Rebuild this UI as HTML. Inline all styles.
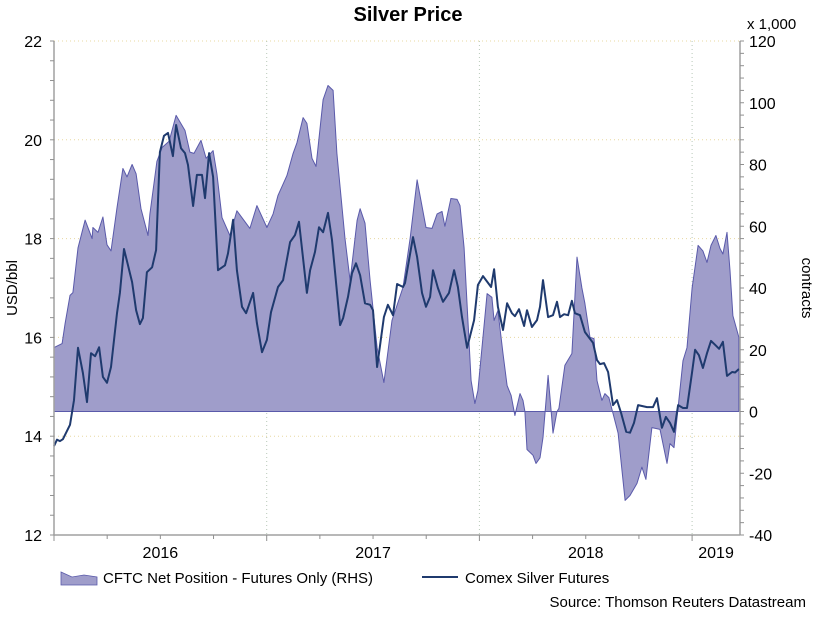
<!DOCTYPE html>
<html><head><meta charset="utf-8"><style>
html,body{margin:0;padding:0;background:#fff;}
svg text{font-family:"Liberation Sans",Arial,sans-serif;fill:#000;}
</style></head><body>
<svg id="chart" width="821" height="620" viewBox="0 0 821 620" xmlns="http://www.w3.org/2000/svg">
<text x="408" y="21" text-anchor="middle" font-size="20" font-weight="bold">Silver Price</text>
<g id="grid"></g>
<g id="areaG"></g>
<g id="lineG"></g>
<g id="axes"></g>
<text transform="translate(17,288) rotate(-90)" text-anchor="middle" font-size="15">USD/bbl</text>
<text transform="translate(802,288) rotate(90)" text-anchor="middle" font-size="15">contracts</text>
<text x="747" y="29" font-size="15">x 1,000</text>
<g>
 <g>
  <polygon points="61,572 72,577 84,575 97,577 97,585 61,585" fill="#9f9dca" stroke="#5a5aaa" stroke-width="0.8"/>
  <text x="103" y="583" font-size="15">CFTC Net Position - Futures Only (RHS)</text>
 </g>
 <g>
  <line x1="422" y1="577" x2="458" y2="577" stroke="#1f3a6e" stroke-width="2"/>
  <text x="465" y="583" font-size="15">Comex Silver Futures</text>
 </g>
</g>
<text x="806" y="607" text-anchor="end" font-size="15">Source: Thomson Reuters Datastream</text>
</svg>
<script>
const cftcDates=[2016.000,2016.038,2016.052,2016.075,2016.089,2016.113,2016.146,2016.179,2016.183,2016.207,2016.230,2016.249,2016.268,2016.296,2016.324,2016.343,2016.367,2016.386,2016.409,2016.442,2016.451,2016.484,2016.508,2016.541,2016.574,2016.616,2016.639,2016.658,2016.691,2016.715,2016.748,2016.766,2016.790,2016.827,2016.860,2016.921,2016.954,2017.001,2017.030,2017.053,2017.095,2017.124,2017.142,2017.171,2017.189,2017.213,2017.232,2017.265,2017.288,2017.312,2017.330,2017.368,2017.392,2017.425,2017.439,2017.462,2017.486,2017.519,2017.551,2017.589,2017.641,2017.674,2017.707,2017.749,2017.777,2017.801,2017.824,2017.838,2017.866,2017.895,2017.909,2017.928,2017.961,2017.979,2017.993,2018.036,2018.059,2018.069,2018.087,2018.111,2018.130,2018.149,2018.167,2018.191,2018.205,2018.214,2018.224,2018.252,2018.266,2018.285,2018.299,2018.323,2018.346,2018.365,2018.374,2018.402,2018.435,2018.459,2018.482,2018.496,2018.520,2018.539,2018.553,2018.576,2018.590,2018.609,2018.628,2018.652,2018.685,2018.708,2018.741,2018.764,2018.783,2018.811,2018.849,2018.882,2018.896,2018.915,2018.934,2018.957,2018.976,2019.000,2019.028,2019.051,2019.070,2019.089,2019.112,2019.131,2019.145,2019.164,2019.178,2019.192,2019.220];
const cftcValues=[20.7,22,28.5,37.6,38.5,53,62,56,59.6,58,63,54,52,66,78.7,76,80,77,65.7,57,64,81,85.5,87.5,95.9,91,84,83.6,87.8,82,84.5,77,62.8,57,65,59.3,66.7,59.6,64,70,76.4,83.6,87,95.2,93.3,82,79.4,101,105.6,104,83.6,56,42.4,61.9,65.7,61,42.4,20.7,9.4,29.5,40.2,56,75,59.6,59.3,64,64.8,60,69,68.7,66.7,53,10,2.6,6.8,38.2,37,29.5,32.7,18.8,8.4,5.2,-1.3,5.8,3.6,0,-12.3,-14.2,-16.8,-15,-8.4,11.7,-7,0,1,15,18.8,50,40,35,24,23.6,10,3.6,5.8,4.5,-0.6,-7,-28.8,-27.2,-23.3,-18,-22,-5.2,-5.8,-16.8,-10.4,-11.7,1.3,16.5,20.7,40,53.8,52,48.3,53.8,57,52.8,51,58,45.7,31,24];
const priceDates=[2016.000,2016.014,2016.028,2016.042,2016.075,2016.094,2016.113,2016.136,2016.155,2016.174,2016.193,2016.212,2016.230,2016.249,2016.268,2016.296,2016.310,2016.329,2016.367,2016.386,2016.404,2016.418,2016.437,2016.461,2016.480,2016.498,2016.517,2016.536,2016.559,2016.574,2016.597,2016.616,2016.630,2016.654,2016.672,2016.696,2016.710,2016.729,2016.748,2016.771,2016.804,2016.818,2016.842,2016.860,2016.884,2016.903,2016.936,2016.954,2016.978,2017.001,2017.020,2017.053,2017.077,2017.110,2017.133,2017.152,2017.189,2017.204,2017.227,2017.246,2017.265,2017.288,2017.307,2017.345,2017.359,2017.382,2017.401,2017.420,2017.439,2017.462,2017.486,2017.500,2017.519,2017.551,2017.570,2017.594,2017.613,2017.641,2017.650,2017.688,2017.707,2017.730,2017.749,2017.768,2017.782,2017.805,2017.829,2017.857,2017.881,2017.899,2017.918,2017.942,2017.975,2017.993,2018.017,2018.055,2018.069,2018.087,2018.111,2018.130,2018.153,2018.167,2018.186,2018.210,2018.224,2018.247,2018.271,2018.285,2018.299,2018.323,2018.346,2018.365,2018.379,2018.398,2018.417,2018.435,2018.449,2018.473,2018.496,2018.515,2018.534,2018.553,2018.567,2018.586,2018.605,2018.628,2018.647,2018.666,2018.690,2018.708,2018.727,2018.746,2018.788,2018.816,2018.835,2018.858,2018.877,2018.896,2018.915,2018.934,2018.957,2018.976,2019.000,2019.014,2019.032,2019.051,2019.070,2019.089,2019.108,2019.127,2019.145,2019.164,2019.188,2019.202,2019.220];
const priceValues=[13.80,13.93,13.90,13.94,14.23,14.73,15.79,15.28,14.69,15.68,15.62,15.80,15.20,15.08,15.40,16.49,16.90,17.79,17.12,16.55,16.27,16.39,17.32,17.42,17.77,19.75,20.08,20.14,19.67,20.30,19.83,19.73,19.49,18.66,19.29,19.29,18.82,19.73,19.25,17.36,17.46,17.70,18.38,17.36,16.62,16.49,16.90,16.29,15.70,15.95,16.51,17.02,17.16,17.93,18.07,18.34,16.90,17.36,17.73,18.23,18.13,18.52,17.97,16.25,16.39,16.82,17.30,17.50,17.26,16.69,16.66,16.55,15.40,16.41,16.66,16.45,17.08,17.02,17.10,18.03,17.63,16.90,16.62,16.82,17.36,17.00,16.72,16.90,17.36,17.02,16.41,15.79,16.35,17.06,17.24,17.02,17.38,16.62,16.15,16.69,16.49,16.43,16.57,16.23,16.55,16.21,16.35,16.62,17.16,16.41,16.45,16.72,16.41,16.47,16.45,16.74,16.49,16.45,16.11,16.00,15.89,15.54,15.46,15.48,15.30,14.63,14.73,14.47,14.09,14.07,14.27,14.63,14.59,14.59,14.77,14.17,14.39,14.27,14.09,14.63,14.57,14.57,15.30,15.75,15.64,15.38,15.68,15.93,15.85,15.77,15.91,15.22,15.30,15.29,15.36];
const leftTicks=[12,14,16,18,20,22];
const rightTicks=[-40,-20,0,20,40,60,80,100,120];
const yearLabels=["2016","2017","2018","2019"];

const NS="http://www.w3.org/2000/svg";
const X0=54,X1=740,YT=41,YB=535,PXY=212.7;
const xS=d=>X0+(d-2016)*PXY;
const yL=v=>YB-(v-12)*(YB-YT)/10;
const yR=v=>YB-(v+40)*(YB-YT)/160;
function mk(tag,attrs,parent){const e=document.createElementNS(NS,tag);for(const k in attrs)e.setAttribute(k,attrs[k]);parent.appendChild(e);return e;}
const grid=document.getElementById('grid'),axes=document.getElementById('axes');

leftTicks.forEach(v=>{if(v===12)return;
 const g=mk('line',{x1:X0,x2:X1,y1:yL(v),y2:yL(v),stroke:'#e8d8a0','stroke-width':1,'stroke-dasharray':'1,3'},grid);
 
 
});
[1,2,3].forEach(i=>{const x=X0+i*PXY;
 const g=mk('line',{x1:x,x2:x,y1:YT,y2:YB,stroke:'#b8c8b8','stroke-width':1,'stroke-dasharray':'1,3'},grid);
 
 
});

// area
const zy=yR(0);
let d='M'+xS(cftcDates[0])+','+zy;
cftcDates.forEach((t,i)=>{d+=' L'+xS(t).toFixed(1)+','+yR(cftcValues[i]).toFixed(1);});
d+=' L'+xS(cftcDates[cftcDates.length-1]).toFixed(1)+','+zy+' Z';
const area=mk('path',{d:d,fill:'#9f9dca',stroke:'#5a5aaa','stroke-width':1,'stroke-linejoin':'round'},document.getElementById('areaG'));



// line
let p='';
priceDates.forEach((t,i)=>{p+=(i?' L':'M')+xS(t).toFixed(1)+','+yL(priceValues[i]).toFixed(1);});
const ln=mk('path',{d:p,fill:'none',stroke:'#1f3a6e','stroke-width':2,'stroke-linejoin':'round'},document.getElementById('lineG'));



// axes lines
mk('line',{x1:X0,x2:X0,y1:YT,y2:YB,stroke:'#a0a0a0','stroke-width':1.5},axes);
mk('line',{x1:X1,x2:X1,y1:YT,y2:YB,stroke:'#a0a0a0','stroke-width':1.5},axes);
mk('line',{x1:X0,x2:X1,y1:YB,y2:YB,stroke:'#a0a0a0','stroke-width':1.5},axes);
for(let v=12;v<=22.001;v+=0.4){mk('line',{x1:X0-4,x2:X0,y1:yL(v),y2:yL(v),stroke:'#909090'},axes);}
for(let v=-40;v<=120;v+=4){mk('line',{x1:X1,x2:X1+4,y1:yR(v),y2:yR(v),stroke:'#909090'},axes);}
for(let i=0;i<=12;i++){const x=X0+i*PXY/4;if(x>X1)break;mk('line',{x1:x,x2:x,y1:YB,y2:YB+(i%4===0?6:4),stroke:'#909090'},axes);}
leftTicks.forEach(v=>{const t=mk('text',{x:42,y:yL(v)+6,'text-anchor':'end','font-size':16},axes);t.textContent=v;
 
 });
rightTicks.forEach(v=>{const t=mk('text',{x:749,y:yR(v)+6,'font-size':16},axes);t.textContent=v;
 
 });
yearLabels.forEach((y,i)=>{const x=i<3?X0+(i+0.5)*PXY:(X0+3*PXY+X1)/2;
 const t=mk('text',{x:x,y:558,'text-anchor':'middle','font-size':16},axes);t.textContent=y;
 
 });
</script>
</body></html>
